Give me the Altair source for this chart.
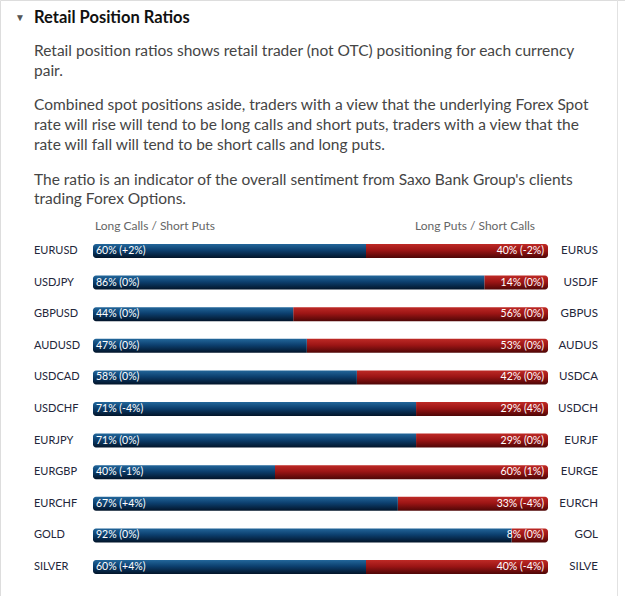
import altair as alt
import pandas as pd

pairs = ["EURUSD", "USDJPY", "GBPUSD", "AUDUSD", "USDCAD", "USDCHF",
         "EURJPY", "EURGBP", "EURCHF", "GOLD", "SILVER"]
right_labels = ["EURUS", "USDJF", "GBPUS", "AUDUS", "USDCA", "USDCH",
                "EURJF", "EURGE", "EURCH", "GOL", "SILVE"]
long_calls = [60, 86, 44, 47, 58, 71, 71, 40, 67, 92, 60]
long_calls_chg = ["+2%", "0%", "0%", "0%", "0%", "-4%", "0%", "-1%", "+4%", "0%", "+4%"]
long_puts = [40, 14, 56, 53, 42, 29, 29, 60, 33, 8, 40]
long_puts_chg = ["-2%", "0%", "0%", "0%", "0%", "4%", "0%", "1%", "-4%", "0%", "-4%"]

title = "Retail Position Ratios"
paragraphs = [
    ["Retail position ratios shows retail trader (not OTC) positioning for each currency",
     "pair."],
    ["Combined spot positions aside, traders with a view that the underlying Forex Spot",
     "rate will rise will tend to be long calls and short puts, traders with a view that the",
     "rate will fall will tend to be short calls and long puts."],
    ["The ratio is an indicator of the overall sentiment from Saxo Bank Group's clients",
     "trading Forex Options."],
]
head_left = "Long Calls / Short Puts"
head_right = "Long Puts / Short Calls"

df = pd.DataFrame({
    "row": list(range(len(pairs))),
    "pair": pairs,
    "rlabel": right_labels,
    "lc": long_calls,
    "lp": long_puts,
    "lc_txt": [f"{v}% ({c})" for v, c in zip(long_calls, long_calls_chg)],
    "lp_txt": [f"{v}% ({c})" for v, c in zip(long_puts, long_puts_chg)],
})
df["total"] = 100

W, H = 625, 596
xs = alt.Scale(domain=[0, 100], range=[93, 548], padding=0, nice=False, zero=False)
ys = alt.Scale(domain=[0, 10], range=[251, 567], padding=0, nice=False, zero=False)

FONT = "Lato"

blue = alt.Gradient(gradient="linear", x1=0, x2=0, y1=0, y2=1, stops=[
    alt.GradientStop(color="#23679b", offset=0),
    alt.GradientStop(color="#0c3f6e", offset=0.45),
    alt.GradientStop(color="#021429", offset=1)])
red = alt.Gradient(gradient="linear", x1=0, x2=0, y1=0, y2=1, stops=[
    alt.GradientStop(color="#be2a26", offset=0),
    alt.GradientStop(color="#9c1515", offset=0.45),
    alt.GradientStop(color="#4e0606", offset=1)])

base = alt.Chart(df)
Y = alt.Y("row:Q", scale=ys, axis=None)

red_bar = base.mark_bar(orient="horizontal", size=14, fill=red,
                        cornerRadiusTopRight=3, cornerRadiusBottomRight=3).encode(
    x=alt.X("lc:Q", scale=xs, axis=None), x2="total:Q", y=Y)
blue_bar = base.transform_calculate(zero="0").mark_bar(
    orient="horizontal", size=14, fill=blue,
    cornerRadiusTopLeft=3, cornerRadiusBottomLeft=3).encode(
    x=alt.X("zero:Q", scale=xs, axis=None), x2="lc:Q", y=Y)

lc_text = base.mark_text(align="left", baseline="middle", font=FONT, fontSize=10.5,
                         color="white", dx=3).transform_calculate(zero="0").encode(
    x=alt.X("zero:Q", scale=xs, axis=None), y=Y, text="lc_txt:N")
lp_text = base.mark_text(align="right", baseline="middle", font=FONT, fontSize=10.5,
                         color="white", dx=-4).encode(
    x=alt.X("total:Q", scale=xs, axis=None), y=Y, text="lp_txt:N")

left_lab = base.mark_text(align="left", baseline="middle", font=FONT, fontSize=11,
                          color="#23263a").encode(
    x=alt.value(34), y=Y, text="pair:N")
right_lab = base.mark_text(align="right", baseline="middle", font=FONT, fontSize=11.5,
                           color="#23263a").encode(
    x=alt.value(598), y=Y, text="rlabel:N")

one = pd.DataFrame({"a": [0]})


def txt(s, x, y, size, color, weight="normal", align="left", font=FONT):
    return alt.Chart(one).mark_text(text=s, align=align, baseline="alphabetic",
                                    font=font, fontSize=size, color=color,
                                    fontWeight=weight).encode(
        x=alt.value(x), y=alt.value(y))


layers = [red_bar, blue_bar, lc_text, lp_text, left_lab, right_lab]
layers.append(txt("▼", 15, 21, 10, "#555555"))
layers.append(txt(title, 34, 23, 16.5, "#111111", weight="bold"))
line_ys = [[56, 76], [110, 130, 150], [185, 204]]
for para, ys_ in zip(paragraphs, line_ys):
    for line, yy in zip(para, ys_):
        layers.append(txt(line, 34, yy, 15.5, "#454545"))
layers.append(txt(head_left, 95, 230, 12, "#666666"))
layers.append(txt(head_right, 535, 230, 12, "#666666", align="right"))

border = alt.Chart(one).mark_rule(color="#e2e2e2", strokeWidth=1).encode(
    x=alt.value(617.5), y=alt.value(0), y2=alt.value(H))
layers.append(border)

chart = alt.layer(*layers).properties(
    width=W, height=H, padding=0, autosize=alt.AutoSizeParams(type="none")
).configure_view(stroke=None).configure(background="white")

chart.save("out.html", embed_options={"renderer": "svg", "actions": False})
